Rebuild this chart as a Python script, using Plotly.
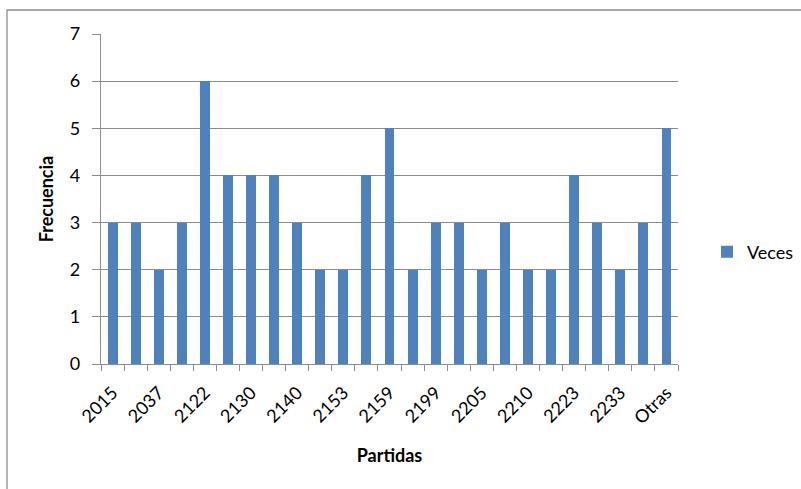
import plotly.graph_objects as go

# Frecuencia por partida (25 categorías; se rotula una de cada dos)
veces = [3, 3, 2, 3, 6, 4, 4, 4, 3, 2, 2, 4, 5, 2, 3, 3, 2, 3, 2, 2, 4, 3, 2, 3, 5]
etiquetas = ["2015", "2037", "2122", "2130", "2140", "2153", "2159",
             "2199", "2205", "2210", "2223", "2233", "Otras"]
posiciones = list(range(len(veces)))
pos_etiquetas = posiciones[::2]

FONT = "Lato, 'Open Sans', sans-serif"
GRID = "#8c8c8c"

fig = go.Figure()
fig.add_trace(go.Bar(
    x=posiciones, y=veces, name="Veces",
    marker=dict(color="#4F81BD", line=dict(width=0)),
    width=0.43,
))

L, R, T, B = 101, 123, 34, 125
W, H = 801, 489
pw, ph = W - L - R, H - T - B

fig.update_layout(
    width=W, height=H,
    margin=dict(l=L, r=R, t=T, b=B, autoexpand=False),
    paper_bgcolor="white", plot_bgcolor="white",
    font=dict(family=FONT, size=17, color="black"),
    showlegend=True,
    legend=dict(x=(707 - L) / pw, y=(H - B - 252) / ph, xanchor="left", yanchor="middle",
                font=dict(size=18), itemwidth=30, bgcolor="rgba(0,0,0,0)"),
    bargap=0,
)

fig.update_xaxes(
    range=[-0.5, len(veces) - 0.5],
    tickmode="array", tickvals=pos_etiquetas, ticktext=etiquetas,
    tickangle=-45, ticks="", tickfont=dict(size=18), ticklabelstandoff=10,
    showline=True, linecolor=GRID, linewidth=1.3,
    showgrid=False, zeroline=False,
    minor=dict(ticks="outside", tickmode="linear", tick0=-0.5, dtick=1,
               ticklen=6, tickcolor=GRID, tickwidth=1.3, showgrid=False),
    title=dict(text="<b>Partidas</b>", font=dict(size=18), standoff=22),
)
fig.update_yaxes(
    range=[0, 7], dtick=1, tick0=0,
    ticks="outside", ticklen=8, tickcolor=GRID, tickwidth=1.3,
    tickfont=dict(size=18), ticklabelstandoff=8,
    showline=True, linecolor=GRID, linewidth=1.3,
    showgrid=True, gridcolor=GRID, gridwidth=1.3, zeroline=False,
    title=dict(text="<b>Frecuencia</b>", font=dict(size=18), standoff=11),
)

# Marco exterior del gráfico
fig.add_shape(type="rect", xref="paper", yref="paper",
              x0=(7 - L) / pw, x1=2, y0=-2, y1=(H - B - 10) / ph,
              line=dict(color="#8c8c8c", width=1.3), layer="below")

fig.write_html("out.html")
